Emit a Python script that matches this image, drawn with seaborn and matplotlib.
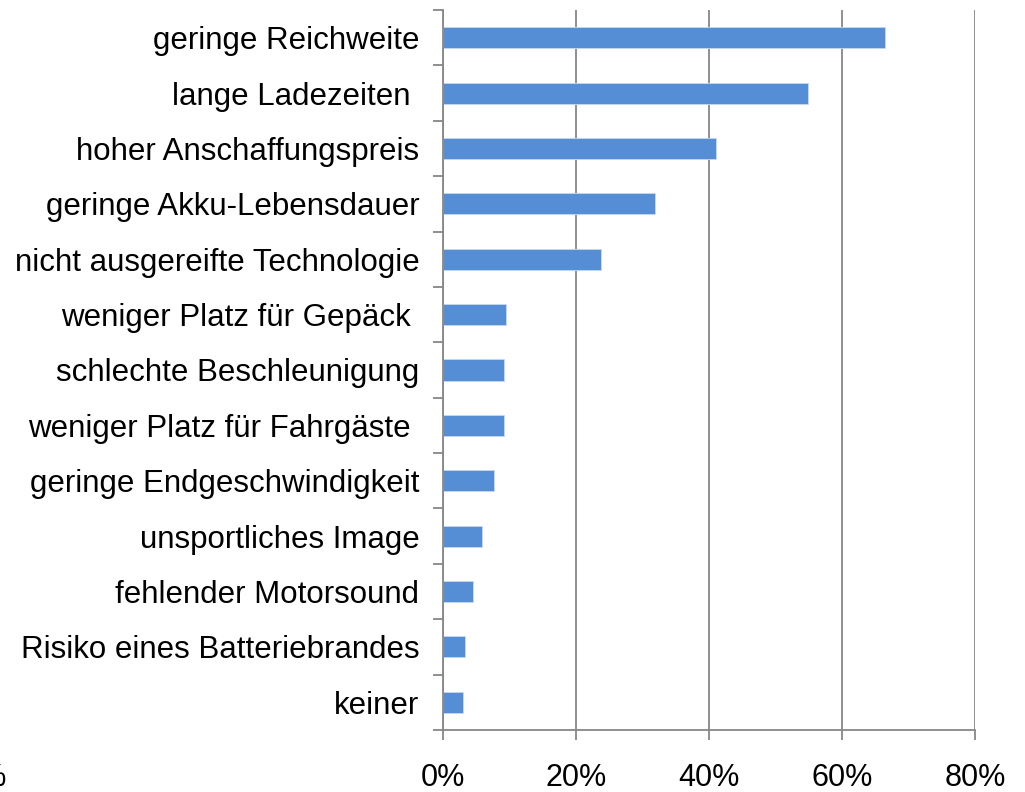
import matplotlib
matplotlib.use("Agg")
import pandas as pd
import matplotlib.pyplot as plt
import seaborn as sns
from matplotlib.ticker import FuncFormatter

# Gründe gegen ein Elektroauto (Anteil der Befragten)
gruende = [
    "geringe Reichweite",
    "lange Ladezeiten ",
    "hoher Anschaffungspreis",
    "geringe Akku-Lebensdauer",
    "nicht ausgereifte Technologie",
    "weniger Platz für Gepäck ",
    "schlechte Beschleunigung",
    "weniger Platz für Fahrgäste ",
    "geringe Endgeschwindigkeit",
    "unsportliches Image",
    "fehlender Motorsound",
    "Risiko eines Batteriebrandes",
    "keiner",
]
anteile = [66.4, 54.9, 41.0, 31.9, 23.8, 9.4, 9.1, 9.1, 7.7, 5.9, 4.5, 3.3, 3.0]
x_ticks = [0, 20, 40, 60, 80]

df = pd.DataFrame({"grund": gruende, "anteil": anteile})

sns.set_style("white")
plt.rcParams["font.family"] = ["Liberation Sans", "DejaVu Sans"]
plt.rcParams["text.color"] = "black"

fig = plt.figure(figsize=(10.25, 7.92), dpi=100)
ax = fig.add_axes([443 / 1025, 1 - 730 / 792, (975 - 443) / 1025, (730 - 10) / 792])

sns.barplot(data=df, x="anteil", y="grund", orient="h", color="#558ed5",
            width=0.38, edgecolor="#c6d9f1", linewidth=0.6, saturation=1, ax=ax)

grau = "#878787"
ax.set_xlim(0, 80)
ax.set_ylim(len(gruende) - 0.5, -0.5)
ax.set_xticks(x_ticks)
ax.xaxis.set_major_formatter(FuncFormatter(lambda v, p: f"{v:.0f}%"))
ax.grid(axis="x", color=grau, linewidth=1.3)
ax.set_axisbelow(True)

# Excel-artige Teilstriche zwischen den Kategorien
ax.set_yticks([i - 0.5 for i in range(len(gruende) + 1)], minor=True)
ax.tick_params(axis="y", which="major", length=0, pad=17, labelsize=22.5, labelcolor="black")
ax.tick_params(axis="y", which="minor", length=7, width=1.3, color=grau, left=True)
ax.tick_params(axis="x", length=7, width=1.3, color=grau, pad=17, labelsize=22,
               labelcolor="black", bottom=True)

for side in ["top", "right"]:
    ax.spines[side].set_visible(False)
for side in ["left", "bottom"]:
    ax.spines[side].set_color(grau)
    ax.spines[side].set_linewidth(1.3)

ax.set_xlabel("")
ax.set_ylabel("")

# abgeschnittenes Achsenlabel am linken Rand
fig.text(7 / 1025, 1 - 778 / 792, "0%", ha="right", va="center", fontsize=22, color="black")

fig.savefig("out.png", dpi=100)
